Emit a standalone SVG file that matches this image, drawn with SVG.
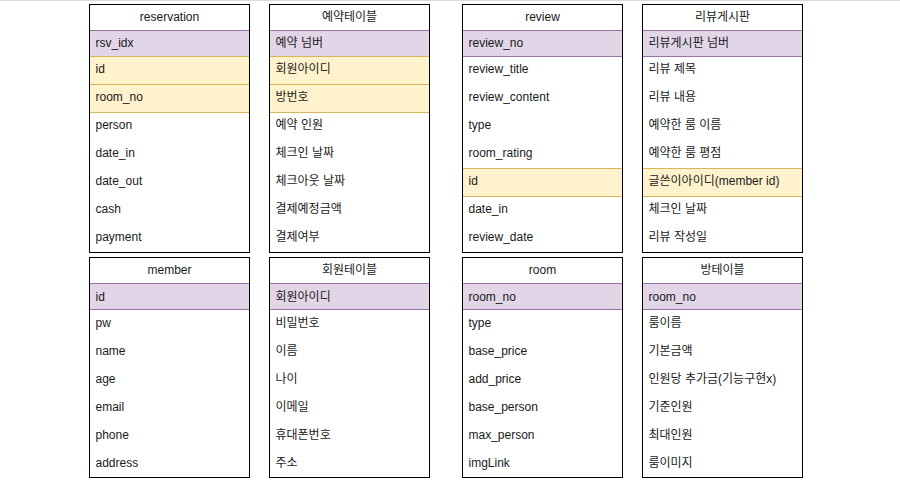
<svg xmlns="http://www.w3.org/2000/svg" width="900" height="480" viewBox="0 0 900 480">
<style>
text{font-family:"Liberation Sans","Noto Sans CJK KR",Arial,sans-serif;font-size:12px;fill:#1a1a1a}
.h{text-anchor:middle}
.box{fill:none;stroke:#000;stroke-width:1}
.hdr{fill:#fff;stroke:#000;stroke-width:1}
.pk{fill:#e1d5e7;stroke:#9673a6;stroke-width:1}
.fk{fill:#fff2cc;stroke:#d6b656;stroke-width:1}
</style>
<rect x="0" y="0" width="900" height="480" fill="#fff"/>
<line x1="0" y1="0.5" x2="900" y2="0.5" stroke="#d9d9d9"/>

<g id="reservation">
<rect class="hdr" x="89.5" y="4.5" width="160" height="248"/>
<rect class="pk" x="89.5" y="30.5" width="160" height="26"/>
<rect class="fk" x="89.5" y="56.5" width="160" height="28"/>
<rect class="fk" x="89.5" y="84.5" width="160" height="28"/>
<rect class="box" x="89.5" y="4.5" width="160" height="248"/>
<text class="h" x="169.5" y="21">reservation</text>
<text x="95.5" y="47">rsv_idx</text>
<text x="95.5" y="73">id</text>
<text x="95.5" y="101">room_no</text>
<text x="95.5" y="129">person</text>
<text x="95.5" y="157">date_in</text>
<text x="95.5" y="185">date_out</text>
<text x="95.5" y="213">cash</text>
<text x="95.5" y="241">payment</text>
</g>

<g id="reservation_kr">
<rect class="hdr" x="269.5" y="4.5" width="160" height="248"/>
<rect class="pk" x="269.5" y="30.5" width="160" height="26"/>
<rect class="fk" x="269.5" y="56.5" width="160" height="28"/>
<rect class="fk" x="269.5" y="84.5" width="160" height="28"/>
<rect class="box" x="269.5" y="4.5" width="160" height="248"/>
<text class="h" x="349.5" y="21">예약테이블</text>
<text x="275.5" y="47">예약 넘버</text>
<text x="275.5" y="73">회원아이디</text>
<text x="275.5" y="101">방번호</text>
<text x="275.5" y="129">예약 인원</text>
<text x="275.5" y="157">체크인 날짜</text>
<text x="275.5" y="185">체크아웃 날짜</text>
<text x="275.5" y="213">결제예정금액</text>
<text x="275.5" y="241">결제여부</text>
</g>

<g id="review">
<rect class="hdr" x="462.5" y="4.5" width="160" height="248"/>
<rect class="pk" x="462.5" y="30.5" width="160" height="26"/>
<rect class="fk" x="462.5" y="168.5" width="160" height="28"/>
<rect class="box" x="462.5" y="4.5" width="160" height="248"/>
<text class="h" x="542.5" y="21">review</text>
<text x="468.5" y="47">review_no</text>
<text x="468.5" y="73">review_title</text>
<text x="468.5" y="101">review_content</text>
<text x="468.5" y="129">type</text>
<text x="468.5" y="157">room_rating</text>
<text x="468.5" y="185">id</text>
<text x="468.5" y="213">date_in</text>
<text x="468.5" y="241">review_date</text>
</g>

<g id="review_kr">
<rect class="hdr" x="642.5" y="4.5" width="160" height="248"/>
<rect class="pk" x="642.5" y="30.5" width="160" height="26"/>
<rect class="fk" x="642.5" y="168.5" width="160" height="28"/>
<rect class="box" x="642.5" y="4.5" width="160" height="248"/>
<text class="h" x="722.5" y="21">리뷰게시판</text>
<text x="648.5" y="47">리뷰게시판 넘버</text>
<text x="648.5" y="73">리뷰 제목</text>
<text x="648.5" y="101">리뷰 내용</text>
<text x="648.5" y="129">예약한 룸 이름</text>
<text x="648.5" y="157">예약한 룸 평점</text>
<text x="648.5" y="185">글쓴이아이디(member id)</text>
<text x="648.5" y="213">체크인 날짜</text>
<text x="648.5" y="241">리뷰 작성일</text>
</g>

<g id="member">
<rect class="hdr" x="89.5" y="257.5" width="160" height="220"/>
<rect class="pk" x="89.5" y="283.5" width="160" height="26"/>
<rect class="box" x="89.5" y="257.5" width="160" height="220"/>
<text class="h" x="169.5" y="274">member</text>
<text x="95.5" y="301">id</text>
<text x="95.5" y="327">pw</text>
<text x="95.5" y="355">name</text>
<text x="95.5" y="383">age</text>
<text x="95.5" y="411">email</text>
<text x="95.5" y="439">phone</text>
<text x="95.5" y="467">address</text>
</g>

<g id="member_kr">
<rect class="hdr" x="269.5" y="257.5" width="160" height="220"/>
<rect class="pk" x="269.5" y="283.5" width="160" height="26"/>
<rect class="box" x="269.5" y="257.5" width="160" height="220"/>
<text class="h" x="349.5" y="274">회원테이블</text>
<text x="275.5" y="301">회원아이디</text>
<text x="275.5" y="327">비밀번호</text>
<text x="275.5" y="355">이름</text>
<text x="275.5" y="383">나이</text>
<text x="275.5" y="411">이메일</text>
<text x="275.5" y="439">휴대폰번호</text>
<text x="275.5" y="467">주소</text>
</g>

<g id="room">
<rect class="hdr" x="462.5" y="257.5" width="160" height="220"/>
<rect class="pk" x="462.5" y="283.5" width="160" height="26"/>
<rect class="box" x="462.5" y="257.5" width="160" height="220"/>
<text class="h" x="542.5" y="274">room</text>
<text x="468.5" y="301">room_no</text>
<text x="468.5" y="327">type</text>
<text x="468.5" y="355">base_price</text>
<text x="468.5" y="383">add_price</text>
<text x="468.5" y="411">base_person</text>
<text x="468.5" y="439">max_person</text>
<text x="468.5" y="467">imgLink</text>
</g>

<g id="room_kr">
<rect class="hdr" x="642.5" y="257.5" width="160" height="220"/>
<rect class="pk" x="642.5" y="283.5" width="160" height="26"/>
<rect class="box" x="642.5" y="257.5" width="160" height="220"/>
<text class="h" x="722.5" y="274">방테이블</text>
<text x="648.5" y="301">room_no</text>
<text x="648.5" y="327">룸이름</text>
<text x="648.5" y="355">기본금액</text>
<text x="648.5" y="383">인원당 추가금(기능구현x)</text>
<text x="648.5" y="411">기준인원</text>
<text x="648.5" y="439">최대인원</text>
<text x="648.5" y="467">룸이미지</text>
</g>
</svg>
